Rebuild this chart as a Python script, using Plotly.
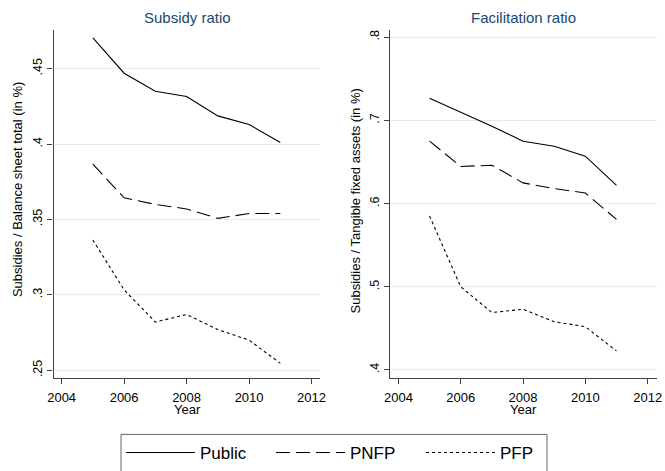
import plotly.graph_objects as go

years = [2005, 2006, 2007, 2008, 2009, 2010, 2011]
series_names = ["Public", "PNFP", "PFP"]

sub_public = [0.4704, 0.4470, 0.4350, 0.4315, 0.4187, 0.4130, 0.4011]
sub_pnfp = [0.3867, 0.3644, 0.3600, 0.3570, 0.3507, 0.3540, 0.3540]
sub_pfp = [0.3364, 0.3033, 0.2820, 0.2870, 0.2770, 0.2700, 0.2546]

fac_public = [0.7265, 0.7098, 0.6930, 0.6750, 0.6690, 0.6570, 0.6218]
fac_pnfp = [0.6750, 0.6446, 0.6461, 0.6249, 0.6180, 0.6127, 0.5810]
fac_pfp = [0.5850, 0.5000, 0.4690, 0.4730, 0.4580, 0.4520, 0.4229]

x_ticks = [2004, 2006, 2008, 2010, 2012]
sub_ticks = [0.25, 0.30, 0.35, 0.40, 0.45]
sub_ticktext = [".25", ".3", ".35", ".4", ".45"]
fac_ticks = [0.4, 0.5, 0.6, 0.7, 0.8]
fac_ticktext = [".4", ".5", ".6", ".7", ".8"]

W, H = 665, 471
FONT = "Liberation Sans, Arial, sans-serif"
dashes = ["solid", "14px,6px", "3px,3px"]

fig = go.Figure()
for i, (name, vals) in enumerate(zip(series_names, [sub_public, sub_pnfp, sub_pfp])):
    fig.add_trace(go.Scatter(x=years, y=vals, mode="lines", name=name,
                             line=dict(color="black", width=1.1, dash=dashes[i]),
                             xaxis="x", yaxis="y", legendgroup=name))
for i, (name, vals) in enumerate(zip(series_names, [fac_public, fac_pnfp, fac_pfp])):
    fig.add_trace(go.Scatter(x=years, y=vals, mode="lines", name=name,
                             line=dict(color="black", width=1.1, dash=dashes[i]),
                             xaxis="x2", yaxis="y2", legendgroup=name, showlegend=False))

def px_x(p):
    return p / W

def px_y(p):
    return 1 - p / H

axis_common = dict(showline=True, linecolor="#404040", linewidth=1.2,
                   ticks="outside", ticklen=5, tickcolor="#404040", tickwidth=1,
                   tickfont=dict(family=FONT, size=12.5, color="black"),
                   zeroline=False, automargin=False, mirror=False)
xaxis_extra = dict(ticklabelstandoff=2, tickfont=dict(family=FONT, size=13, color="black"))

ydom = [px_y(383), px_y(30)]
xa = dict(axis_common); xa.update(xaxis_extra)
fig.update_layout(
    width=W, height=H,
    margin=dict(l=0, r=0, t=0, b=0),
    paper_bgcolor="white", plot_bgcolor="white",
    font=dict(family=FONT, color="black"),
    xaxis=dict(domain=[px_x(53.5), px_x(320)], range=[2003.74, 2012.27],
               tickvals=x_ticks, showgrid=False, anchor="y", **xa),
    yaxis=dict(domain=ydom, range=[0.2448, 0.4759], tickvals=sub_ticks, ticktext=sub_ticktext,
               tickangle=-90, showgrid=True, gridcolor="#e3ecee", gridwidth=1,
               anchor="x", **axis_common),
    xaxis2=dict(domain=[px_x(390), px_x(656.7)], range=[2003.73, 2012.29],
                tickvals=x_ticks, showgrid=False, anchor="y2", **xa),
    yaxis2=dict(domain=ydom, range=[0.3902, 0.8091], tickvals=fac_ticks, ticktext=fac_ticktext,
                tickangle=-90, showgrid=True, gridcolor="#e3ecee", gridwidth=1,
                anchor="x2", **axis_common),
    showlegend=True,
    legend=dict(orientation="h", x=px_x(121), y=px_y(441), xanchor="left", yanchor="top",
                borderwidth=0, bgcolor="rgba(0,0,0,0)",
                font=dict(family=FONT, size=17, color="black"),
                entrywidth=66, itemwidth=69),
    shapes=[dict(type="rect", xref="paper", yref="paper",
                 x0=px_x(121), x1=px_x(547), y0=px_y(440), y1=px_y(485),
                 line=dict(color="#666666", width=1), fillcolor="rgba(0,0,0,0)", layer="below")],
)

annotations = [
    dict(text="Subsidy ratio", x=px_x(187), y=px_y(18), xref="paper", yref="paper",
         showarrow=False, font=dict(family=FONT, size=15, color="#1a476f"),
         xanchor="center", yanchor="middle"),
    dict(text="Facilitation ratio", x=px_x(523), y=px_y(18), xref="paper", yref="paper",
         showarrow=False, font=dict(family=FONT, size=15, color="#1a476f"),
         xanchor="center", yanchor="middle"),
    dict(text="Year", x=px_x(187), y=px_y(415), xref="paper", yref="paper",
         showarrow=False, font=dict(family=FONT, size=13, color="black"),
         xanchor="center", yanchor="middle"),
    dict(text="Year", x=px_x(523), y=px_y(415), xref="paper", yref="paper",
         showarrow=False, font=dict(family=FONT, size=13, color="black"),
         xanchor="center", yanchor="middle"),
    dict(text="Subsidies / Balance sheet total (in %)", x=px_x(17.5), y=px_y(192),
         xref="paper", yref="paper", showarrow=False, textangle=-90,
         font=dict(family=FONT, size=13, color="black"), xanchor="center", yanchor="middle"),
    dict(text="Subsidies / Tangible fixed assets (in %)", x=px_x(355), y=px_y(204),
         xref="paper", yref="paper", showarrow=False, textangle=-90,
         font=dict(family=FONT, size=13, color="black"), xanchor="center", yanchor="middle"),
]
fig.update_layout(annotations=annotations)

fig.write_html("out.html", config={"displayModeBar": False},
               post_script="document.body.style.margin='0px';document.body.style.padding='0px';")
